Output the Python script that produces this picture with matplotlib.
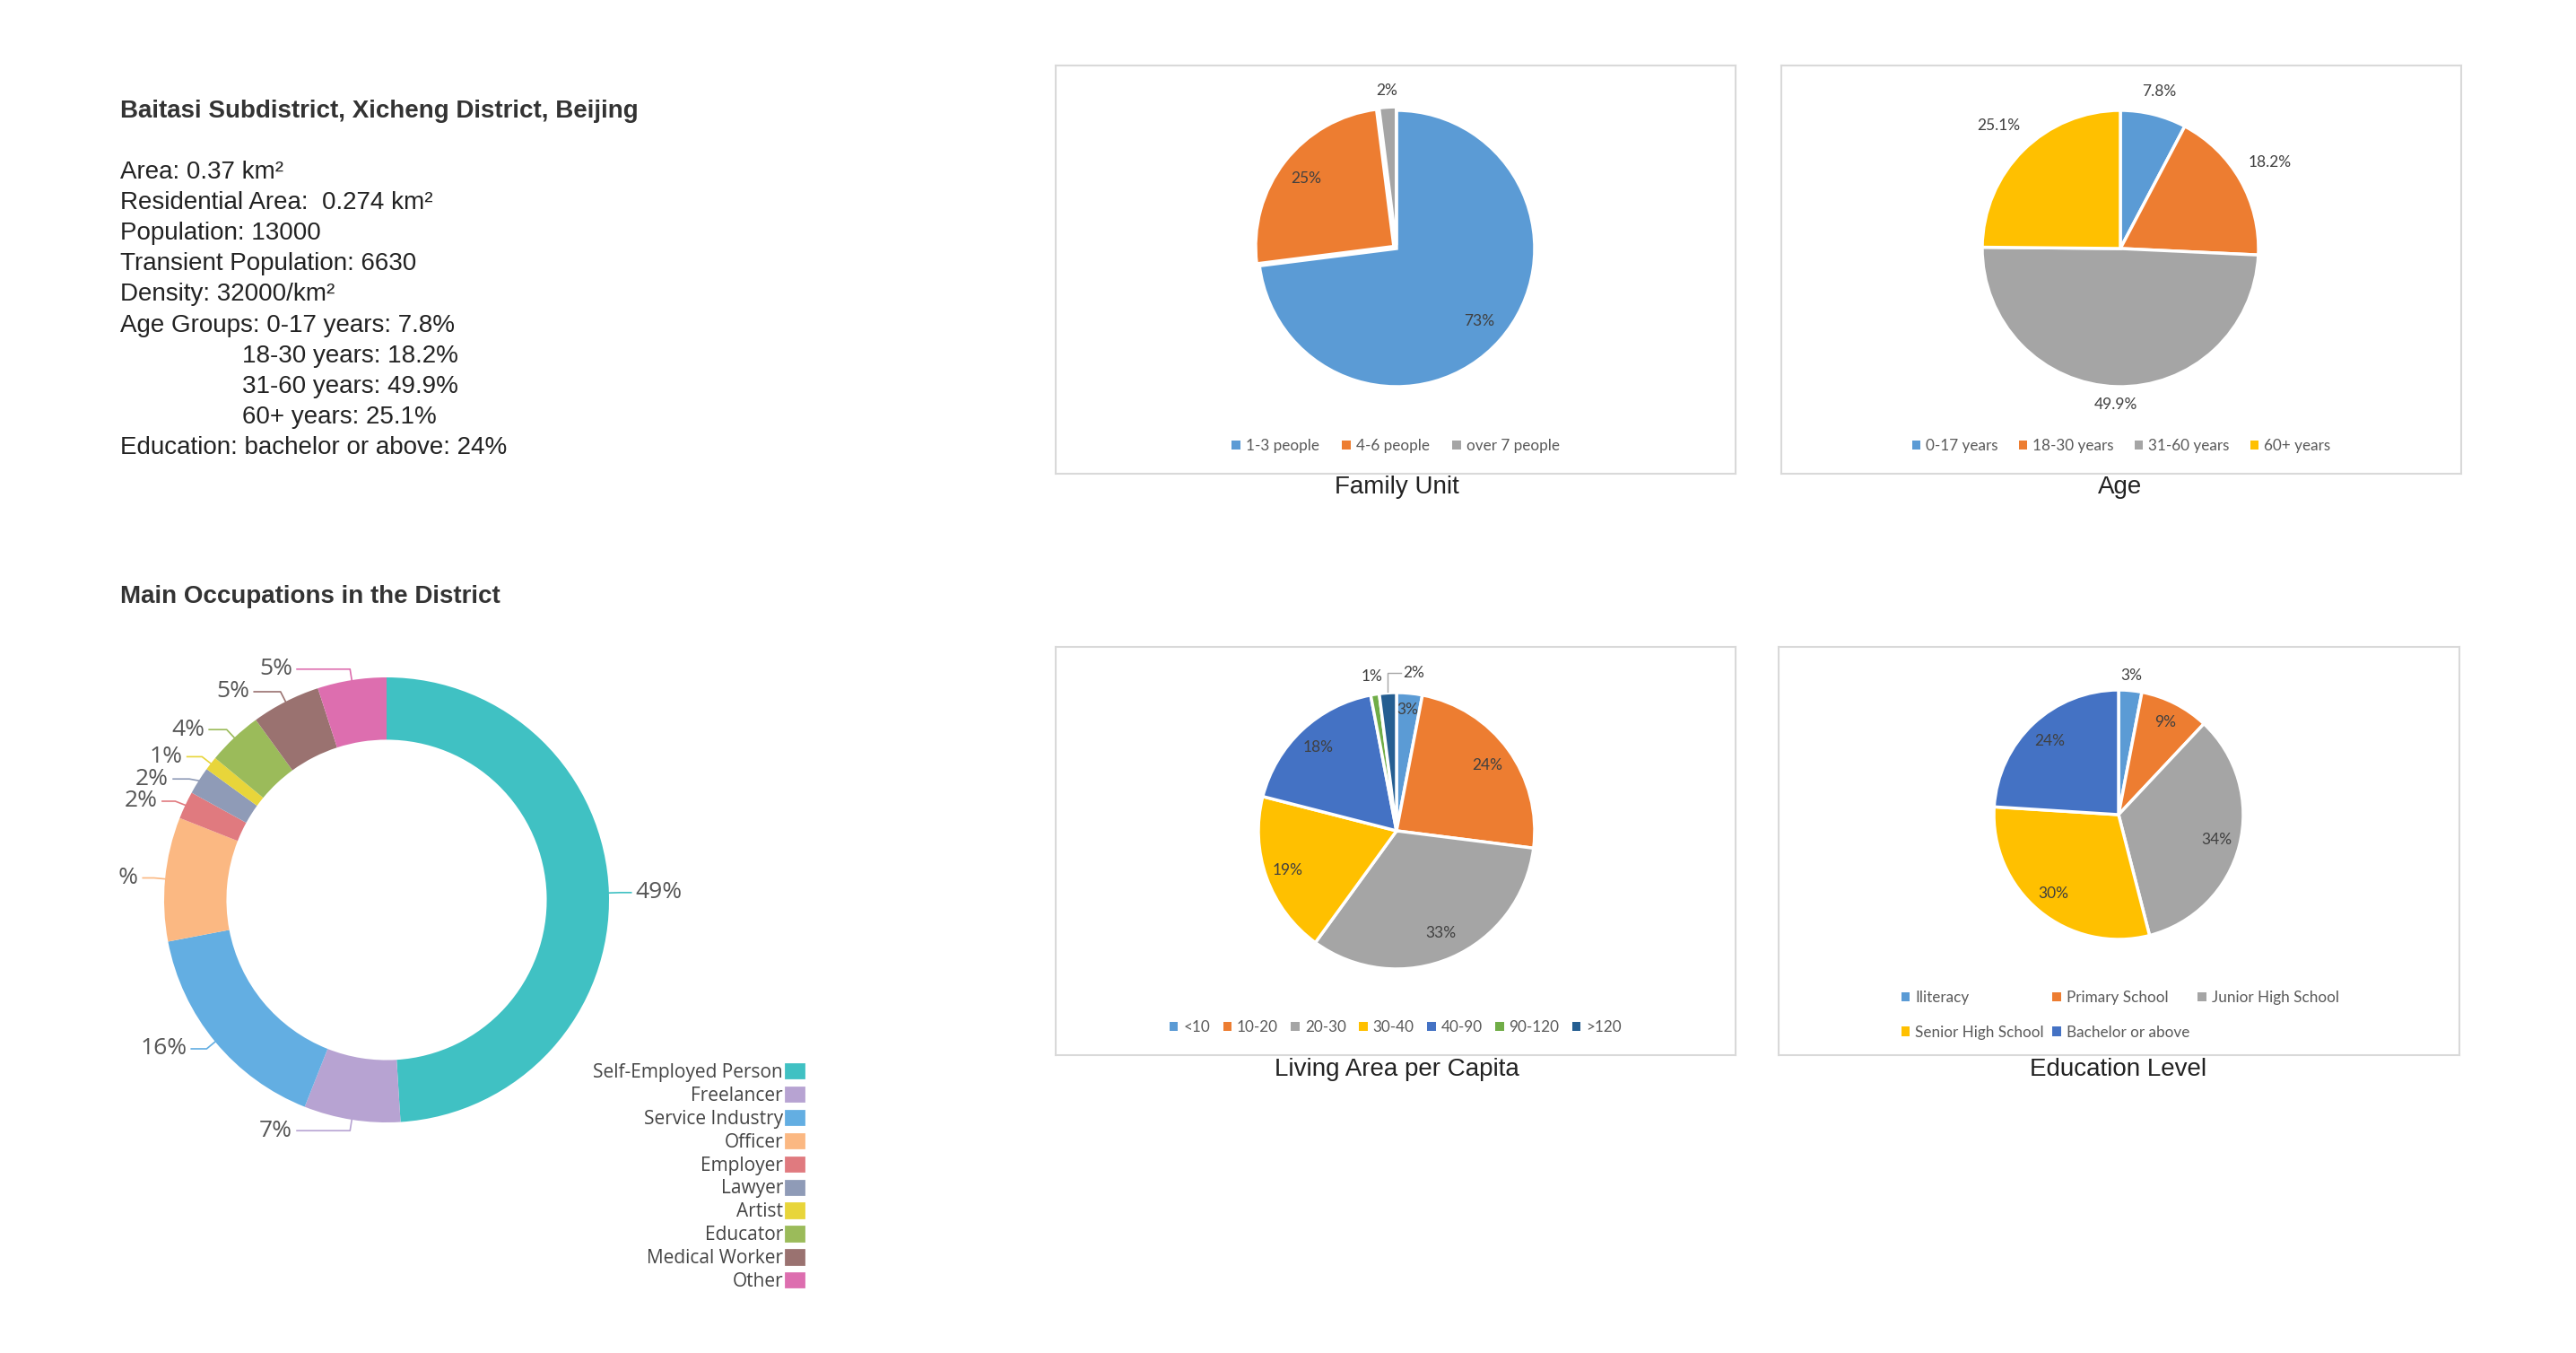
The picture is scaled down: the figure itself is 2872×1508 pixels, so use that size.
import numpy as np
import matplotlib.pyplot as plt
from matplotlib.patches import Patch

W, H = 2872, 1508

# ---- data ----
info_title = 'Baitasi Subdistrict, Xicheng District, Beijing'
area = 0.37
residential_area = 0.274
population = 13000
transient_population = 6630
density = 32000
bachelor_share = 24

family_labels = ['1-3 people', '4-6 people', 'over 7 people']
family_values = [73, 25, 2]

age_labels = ['0-17 years', '18-30 years', '31-60 years', '60+ years']
age_values = [7.8, 18.2, 49.9, 25.1]

living_labels = ['<10', '10-20', '20-30', '30-40', '40-90', '90-120', '>120']
living_values = [3, 24, 33, 19, 18, 1, 2]

edu_labels = ['Iliteracy', 'Primary School', 'Junior High School',
              'Senior High School', 'Bachelor or above']
edu_values = [3, 9, 34, 30, 24]

occ_labels = ['Self-Employed Person', 'Freelancer', 'Service Industry', 'Officer',
              'Employer', 'Lawyer', 'Artist', 'Educator', 'Medical Worker', 'Other']
occ_values = [49, 7, 16, 9, 2, 2, 1, 4, 5, 5]

# ---- styles ----
xl_colors = ['#5B9BD5', '#ED7D31', '#A5A5A5', '#FFC000', '#4472C4', '#70AD47', '#255E91']
occ_colors = ['#40C1C3', '#B7A3D2', '#63AEE2', '#FBB882', '#E07A7F',
              '#8F9BB7', '#E8D53A', '#9BBB5A', '#9A7270', '#DD6EAF']
XL_FONT = 'Lato'
TXT_FONT = 'Liberation Sans'
OCC_FONT = 'Open Sans'


def fx(x):
    return x / W


def fy(y):
    return 1 - y / H


fig = plt.figure(figsize=(W / 100, H / 100), dpi=100)
fig.patch.set_facecolor('white')


def excel_pie(box, center, r, values, labels, colors, fmt, dists, explode=None,
              legend_y=0.068, ncol=None, legend_left=None, order=None, colspace=1.5):
    x0, y0, x1, y1 = box
    cx, cy = center
    ax = fig.add_axes([fx(x0), fy(y1), (x1 - x0) / W, (y1 - y0) / H])
    wedges, _ = ax.pie(values, colors=colors, startangle=90, counterclock=False,
                       explode=explode,
                       wedgeprops=dict(edgecolor='white', linewidth=2.5))
    ax.set_aspect('auto')
    ax.set_xlim((x0 - cx) / r, (x1 - cx) / r)
    ax.set_ylim((cy - y1) / r, (cy - y0) / r)
    ax.set_frame_on(True)
    for sp in ax.spines.values():
        sp.set_edgecolor('#D9D9D9')
        sp.set_linewidth(1.5)
    for w, v, d in zip(wedges, values, dists):
        if d is None:
            continue
        a = np.deg2rad((w.theta1 + w.theta2) / 2)
        ax.text(w.center[0] + d * np.cos(a), w.center[1] + d * np.sin(a), fmt.format(v),
                ha='center', va='center', fontsize=12.5, color='#404040', family=XL_FONT)
    handles = [Patch(facecolor=c, edgecolor='none') for c in colors]
    labs = list(labels)
    if order is not None:
        handles = [handles[i] for i in order]
        labs = [labs[i] for i in order]
    kw = dict(frameon=False, handlelength=0.55, handleheight=0.55,
              handletextpad=0.35, columnspacing=colspace, labelcolor='#595959',
              prop=dict(family=XL_FONT, size=12.3), borderpad=0)
    if legend_left is None:
        ax.legend(handles, labs, loc='center', bbox_to_anchor=(0.5, legend_y),
                  ncol=ncol or len(labs), **kw)
    else:
        ax.legend(handles, labs, loc='center left', bbox_to_anchor=(legend_left, legend_y),
                  ncol=ncol, labelspacing=1.3, **kw)
    return ax, wedges


def box_title(x, y, t):
    fig.text(fx(x), fy(y), t, ha='center', va='center', fontsize=20,
             color='#222222', family=TXT_FONT)


# Family Unit
excel_pie((1177, 73, 1935, 528), (1557, 277), 154, family_values, family_labels,
          xl_colors[:3], '{}%', [0.8, 0.8, 1.12], explode=[0, 0.025, 0.025])
box_title(1557, 543, 'Family Unit')

# Age
excel_pie((1986, 73, 2744, 528), (2364, 277), 154, age_values, age_labels,
          xl_colors[:4], '{}%', [1.17, 1.25, 1.13, 1.25], colspace=1.35)
box_title(2364, 543, 'Age')

# Living Area per Capita
ax_l, w_l = excel_pie((1177, 721, 1935, 1176), (1557, 926), 154, living_values, living_labels,
                      xl_colors, '{}%', [0.88, 0.81, 0.81, 0.84, 0.83, 1.13, None],
                      colspace=0.85)
w = w_l[-1]
a = np.deg2rad((w.theta1 + w.theta2) / 2)
ex = np.cos(a)
ax_l.plot([ex, ex, 0.03], [np.sin(a) + 0.01, 1.14, 1.14], color='#A6A6A6', lw=1)
ax_l.text(0.05, 1.14, '{}%'.format(living_values[-1]), ha='left', va='center',
          fontsize=12.5, color='#404040', family=XL_FONT)
box_title(1557, 1192, 'Living Area per Capita')

# Education Level
excel_pie((1983, 721, 2742, 1176), (2362, 908), 139, edu_values, edu_labels,
          xl_colors[:5], '{}%', [1.12, 0.83, 0.81, 0.82, 0.81],
          legend_y=0.098, ncol=3, legend_left=0.169, order=[0, 3, 1, 4, 2], colspace=0.55)
box_title(2362, 1192, 'Education Level')

# ---- info text ----
fig.text(fx(134), fy(124), info_title, ha='left', va='center', fontsize=20,
         fontweight='bold', color='#333333', family=TXT_FONT)
lines = [
    (134, 'Area: {} km²'.format(area)),
    (134, 'Residential Area:  {} km²'.format(residential_area)),
    (134, 'Population: {}'.format(population)),
    (134, 'Transient Population: {}'.format(transient_population)),
    (134, 'Density: {}/km²'.format(density)),
]
for i, (lab, v) in enumerate(zip(age_labels, age_values)):
    prefix = 'Age Groups: ' if i == 0 else ''
    lines.append((134 if i == 0 else 270, '{}{}: {}%'.format(prefix, lab, v)))
lines.append((134, 'Education: bachelor or above: {}%'.format(bachelor_share)))
for i, (x, t) in enumerate(lines):
    fig.text(fx(x), fy(192 + i * 34.1), t, ha='left', va='center', fontsize=20,
             color='#222222', family=TXT_FONT)

fig.text(fx(134), fy(665), 'Main Occupations in the District', ha='left', va='center',
         fontsize=20, fontweight='bold', color='#333333', family=TXT_FONT)

# ---- occupations donut ----
dx0, dy0, dx1, dy1 = 133, 725, 950, 1465
dcx, dcy, dr = 431, 1003, 248
axd = fig.add_axes([fx(dx0), fy(dy1), (dx1 - dx0) / W, (dy1 - dy0) / H])
wd, _ = axd.pie(occ_values, colors=occ_colors, startangle=90, counterclock=False,
                wedgeprops=dict(width=0.28, edgecolor='none'))
axd.set_aspect('auto')
axd.set_xlim((dx0 - dcx) / dr, (dx1 - dcx) / dr)
axd.set_ylim((dcy - dy1) / dr, (dcy - dy0) / dr)
axd.axis('off')

# label layout: y from a 1.05 circle, pushed apart, x on a 1.12 circle
items = []
for w, v, c in zip(wd, occ_values, occ_colors):
    a = np.deg2rad((w.theta1 + w.theta2) / 2)
    items.append(dict(a=a, y=1.05 * np.sin(a), side=np.sign(np.cos(a)) or 1, v=v, c=c))
gap = 0.1
for side in (-1, 1):
    grp = sorted([it for it in items if it['side'] == side], key=lambda t: -t['y'])
    for k in range(1, len(grp)):
        if grp[k - 1]['y'] - grp[k]['y'] < gap:
            grp[k]['y'] = grp[k - 1]['y'] - gap
for it in items:
    a, y, s = it['a'], it['y'], it['side']
    ex, ey = np.cos(a), np.sin(a)
    tx = s * np.sqrt(max(1.12 ** 2 - y ** 2, 0.05))
    elx = 1.05 * ex
    axd.plot([ex, elx, tx - s * 0.02], [ey, y, y], color=it['c'], lw=1.2, clip_on=True)
    axd.text(tx, y, '{}%'.format(it['v']), ha='left' if s > 0 else 'right', va='center',
             fontsize=19, color='#555555', family=OCC_FONT, clip_on=True)

occ_handles = [Patch(facecolor=c, edgecolor=c, linewidth=2, joinstyle='round')
               for c in occ_colors]
fig.legend(occ_handles, occ_labels, loc='upper right', bbox_to_anchor=(fx(896), fy(1185)),
           bbox_transform=fig.transFigure, frameon=False, markerfirst=False,
           prop=dict(family=OCC_FONT, size=15), labelcolor='#444444',
           handlelength=0.95, handleheight=0.75, handletextpad=0.15, labelspacing=0.235,
           borderpad=0, borderaxespad=0)

fig.savefig('out.png', dpi=100, facecolor='white')
